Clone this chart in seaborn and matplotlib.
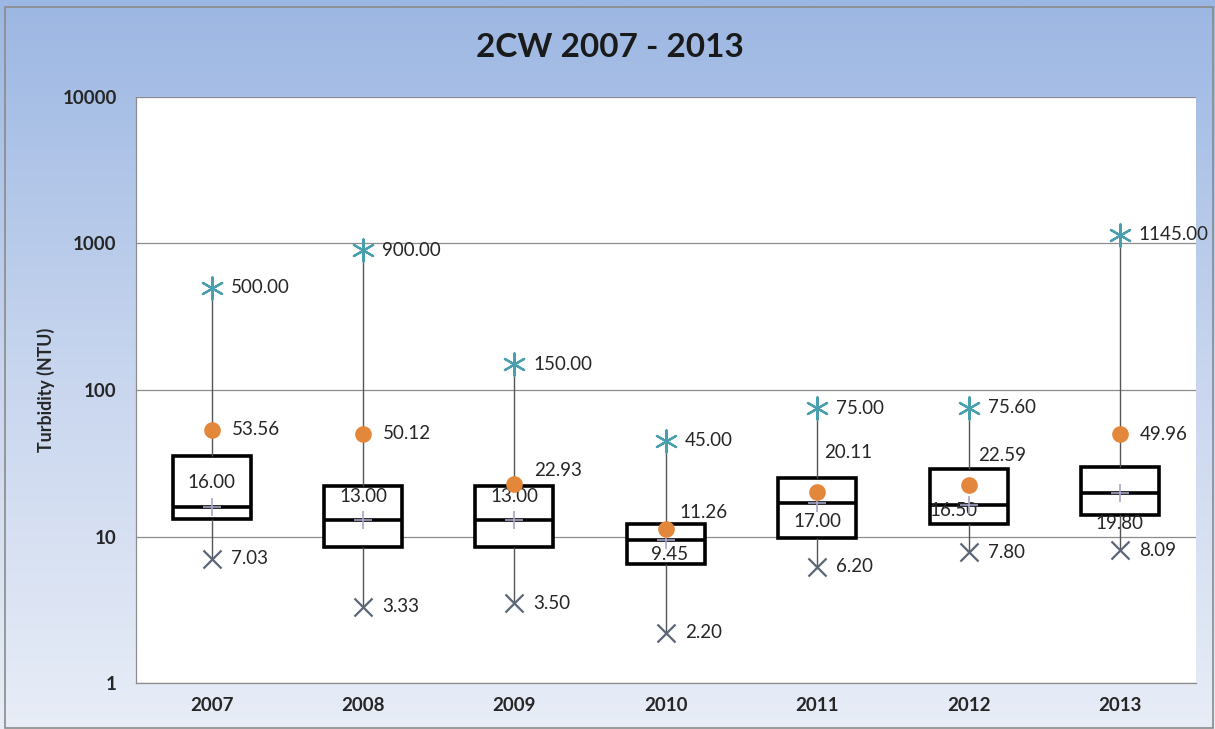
import numpy as np
import pandas as pd
import matplotlib
matplotlib.use("Agg")
import matplotlib.pyplot as plt
import matplotlib.colors as mcolors
import seaborn as sns

years = ["2007", "2008", "2009", "2010", "2011", "2012", "2013"]
min_vals = [7.03, 3.33, 3.50, 2.20, 6.20, 7.80, 8.09]
q1_vals = [13.2, 8.5, 8.5, 6.5, 9.8, 12.2, 14.0]
median_vals = [16.00, 13.00, 13.00, 9.45, 17.00, 16.50, 19.80]
q3_vals = [35.4, 22.1, 22.1, 12.2, 25.0, 28.9, 29.8]
max_vals = [500.00, 900.00, 150.00, 45.00, 75.00, 75.60, 1145.00]
mean_vals = [53.56, 50.12, 22.93, 11.26, 20.11, 22.59, 49.96]

# label offsets in pixels (layout only)
mean_off = [(20, 0), (20, 0), (20, 13), (14, 16), (7, 40), (10, 29), (20, 0)]
median_off = [(0, 24), (0, 23), (0, 23), (4, -14), (0, -19), (-15, -6), (0, -30)]


def main():
    sns.set_style("white")
    plt.rcParams["font.family"] = ["Lato", "DejaVu Sans"]

    # five-number summary per year -> seaborn box with whiskers at min/max
    rows = []
    for y, a, b, c, d, e in zip(years, min_vals, q1_vals, median_vals, q3_vals, max_vals):
        for v in (a, b, c, d, e):
            rows.append({"year": y, "value": v})
    df = pd.DataFrame(rows)

    fig = plt.figure(figsize=(12.15, 7.29), dpi=100)

    # gradient frame
    bg = fig.add_axes([0, 0, 1, 1], zorder=-10)
    cmap = mcolors.LinearSegmentedColormap.from_list(
        "frame", ["#e8edf7", "#c7d5ee", "#9cb7e3"])
    grad = np.linspace(0, 1, 256).reshape(-1, 1)
    bg.imshow(grad, aspect="auto", cmap=cmap, extent=[0, 1, 0, 1], origin="lower")
    bg.add_patch(plt.Rectangle((0.004, 0.002), 0.994, 0.989, fill=False,
                               edgecolor="#8a8a8a", linewidth=1.2,
                               transform=bg.transAxes))
    bg.set_xlim(0, 1)
    bg.set_ylim(0, 1)
    bg.axis("off")

    ax = fig.add_axes([0.112, 0.063, 0.872, 0.804])
    ax.set_facecolor("white")

    sns.boxplot(data=df, x="year", y="value", order=years, ax=ax,
                whis=(0, 100), showcaps=False, width=0.515, fliersize=0,
                log_scale=True, color="white", linecolor="black", linewidth=2.6,
                whiskerprops=dict(color="#555555", linewidth=1.0),
                medianprops=dict(color="black", linewidth=2.6))

    sns.stripplot(x=years, y=median_vals, order=years, ax=ax, jitter=False,
                  marker="+", s=13, linewidth=1.2, color="#a6a6c8", zorder=4)
    sns.stripplot(x=years, y=max_vals, order=years, ax=ax, jitter=False,
                  marker=(6, 2, 0), s=16, linewidth=1.6, color="#4a9fae", zorder=5)
    sns.stripplot(x=years, y=min_vals, order=years, ax=ax, jitter=False,
                  marker="x", s=13, linewidth=1.6, color="#5b6676", zorder=5)
    sns.stripplot(x=years, y=mean_vals, order=years, ax=ax, jitter=False,
                  marker="o", s=12, linewidth=0, color="#e3873a", zorder=6)

    lab = dict(fontsize=13.5, color="#262626", textcoords="offset pixels")
    for i in range(len(years)):
        ax.annotate(f"{max_vals[i]:.2f}", (i, max_vals[i]), xytext=(19, 0),
                    ha="left", va="center", **lab)
        ax.annotate(f"{min_vals[i]:.2f}", (i, min_vals[i]), xytext=(19, 0),
                    ha="left", va="center", **lab)
        ax.annotate(f"{mean_vals[i]:.2f}", (i, mean_vals[i]), xytext=mean_off[i],
                    ha="left", va="center", **lab)
        ax.annotate(f"{median_vals[i]:.2f}", (i, median_vals[i]),
                    xytext=median_off[i], ha="center", va="center", **lab)

    ax.set_ylim(1, 10000)
    ax.set_xlim(-0.5, len(years) - 0.5)
    ax.set_yticks([1, 10, 100, 1000, 10000])
    ax.set_yticklabels(["1", "10", "100", "1000", "10000"])
    ax.yaxis.set_minor_locator(matplotlib.ticker.NullLocator())
    ax.grid(axis="y", color="#8c8c8c", linewidth=0.9)
    ax.set_axisbelow(True)
    for side in ("top", "right"):
        ax.spines[side].set_visible(False)
    for side in ("left", "bottom"):
        ax.spines[side].set_color("#8c8c8c")
        ax.spines[side].set_linewidth(0.9)
    ax.tick_params(axis="y", length=0, pad=14, labelsize=13.5)
    ax.tick_params(axis="x", length=0, pad=10, labelsize=13.5)
    for t in ax.get_xticklabels() + ax.get_yticklabels():
        t.set_fontweight("bold")
    ax.set_xlabel("")
    ax.set_ylabel("Turbidity (NTU)", fontsize=12.8, fontweight="bold", labelpad=5)

    fig.text(0.502, 0.935, "2CW 2007 - 2013", ha="center", va="center",
             fontsize=24, fontweight="bold", color="#1a1a1a")

    fig.savefig("out.png", dpi=100)


if __name__ == "__main__":
    main()
